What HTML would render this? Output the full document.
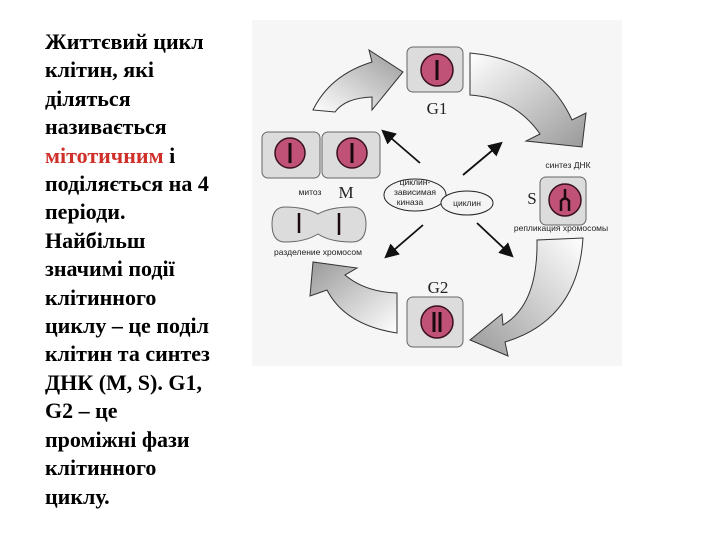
<!DOCTYPE html>
<html><head><meta charset="utf-8"><style>
body{margin:0;width:720px;height:540px;background:#fff;overflow:hidden;position:relative}
.t{position:absolute;left:45px;top:28px;font-family:"Liberation Serif",serif;font-weight:bold;font-size:22px;line-height:28.4px;color:#000;white-space:pre}
.r{color:#d0302a}
svg{position:absolute;left:0;top:0}
</style></head><body>
<div class="t">Життєвий цикл
клітин, які
діляться
називається
<span class="r">мітотичним</span> і
поділяється на 4
періоди.
Найбільш
значимі події
клітинного
циклу – це поділ
клітин та синтез
ДНК (M, S). G1,
G2 – це
проміжні фази
клітинного
циклу.</div>
<svg width="720" height="540" viewBox="0 0 720 540">
<defs>
<linearGradient id="g1" x1="0" y1="1" x2="1" y2="0"><stop offset="0" stop-color="#fff"/><stop offset="1" stop-color="#999"/></linearGradient>
<linearGradient id="g2" x1="0" y1="0" x2="1" y2="1"><stop offset="0" stop-color="#fff"/><stop offset="1" stop-color="#999"/></linearGradient>
<linearGradient id="g3" x1="1" y1="0" x2="0" y2="1"><stop offset="0" stop-color="#fff"/><stop offset="1" stop-color="#999"/></linearGradient>
<linearGradient id="g4" x1="1" y1="1" x2="0" y2="0"><stop offset="0" stop-color="#fff"/><stop offset="1" stop-color="#999"/></linearGradient>
<marker id="ah" markerWidth="8" markerHeight="8" refX="6" refY="4" orient="auto"><path d="M0,0 L8,4 L0,8 z" fill="#111"/></marker>
</defs>
<rect x="252" y="20" width="370" height="346" fill="#f6f6f6"/>
<g stroke="#333" stroke-width="1">
<path d="M313,110 Q330,75 372,62 L369,50 L403,72 L372,110 L372,97 Q345,98 335,112 Z" fill="url(#g1)"/>
<path d="M470,53 Q545,60 572,120 L586,113 L582,147 L526,141 L540,134 Q515,98 470,95 Z" fill="url(#g2)"/>
<path d="M583,238 Q578,320 505,342 L508,356 L470,340 L502,314 L503,325 Q538,305 537,240 Z" fill="url(#g3)"/>
<path d="M397,333 Q345,325 327,290 L310,296 L313,262 L357,268 L345,275 Q365,292 397,293 Z" fill="url(#g4)"/>
</g>
<g stroke="#111" stroke-width="1.8" marker-end="url(#ah)">
<line x1="420" y1="163" x2="384" y2="132"/>
<line x1="463" y1="175" x2="500" y2="144"/>
<line x1="423" y1="225" x2="387" y2="256"/>
<line x1="477" y1="223" x2="511" y2="255"/>
</g>
<g fill="#dcdcdc" stroke="#666" stroke-width="1">
<rect x="407" y="47" width="56" height="45" rx="6"/>
<rect x="262" y="132" width="58" height="46" rx="6"/>
<rect x="322" y="132" width="58" height="46" rx="6"/>
<rect x="540" y="177" width="46" height="48" rx="6"/>
<rect x="407" y="297" width="56" height="50" rx="6"/>
<path d="M285,207 Q305,207 318,214 Q330,207 352,207 Q366,207 366,224 Q366,242 352,242 Q330,242 318,234 Q305,242 285,242 Q272,242 272,224 Q272,207 285,207 Z"/>
</g>
<g fill="#c05278" stroke="#3a1020" stroke-width="1.5">
<circle cx="437" cy="70" r="16"/>
<circle cx="290" cy="153" r="15"/>
<circle cx="352" cy="153" r="15"/>
<circle cx="565" cy="200" r="16"/>
<circle cx="437" cy="322" r="16"/>
</g>
<g stroke="#1a0a10" stroke-width="3" fill="none">
<line x1="437" y1="60" x2="437" y2="80"/>
<line x1="290" y1="143" x2="290" y2="163"/>
<line x1="352" y1="143" x2="352" y2="163"/>
<path d="M565,189 L565,198 M561,211 L561,201 Q565,196 569,201 L569,211" stroke-width="2.5"/>
<line x1="434" y1="312" x2="434" y2="332"/>
<line x1="440" y1="312" x2="440" y2="332"/>
<line x1="299" y1="213" x2="299" y2="233" stroke-width="2.5"/>
<line x1="339" y1="213" x2="339" y2="235" stroke-width="2.5"/>
</g>
<ellipse cx="415" cy="195" rx="31" ry="16" fill="#f4f4f4" stroke="#222"/>
<ellipse cx="467" cy="203" rx="26" ry="12" fill="#f4f4f4" stroke="#222"/>
<g font-family="Liberation Sans,sans-serif" font-size="8.5" fill="#222" text-anchor="middle">
<text x="415" y="185">циклин-</text>
<text x="415" y="195">зависимая</text>
<text x="410" y="205">киназа</text>
<text x="467" y="206">циклин</text>
<text x="310" y="195">митоз</text>
<text x="318" y="255">разделение хромосом</text>
<text x="568" y="168">синтез ДНК</text>
<text x="561" y="231">репликация хромосомы</text>
</g>
<g font-family="Liberation Serif,serif" font-size="17" fill="#222" text-anchor="middle">
<text x="437" y="114">G1</text>
<text x="346" y="198">M</text>
<text x="532" y="204">S</text>
<text x="438" y="293">G2</text>
</g>
</svg>
</body></html>
